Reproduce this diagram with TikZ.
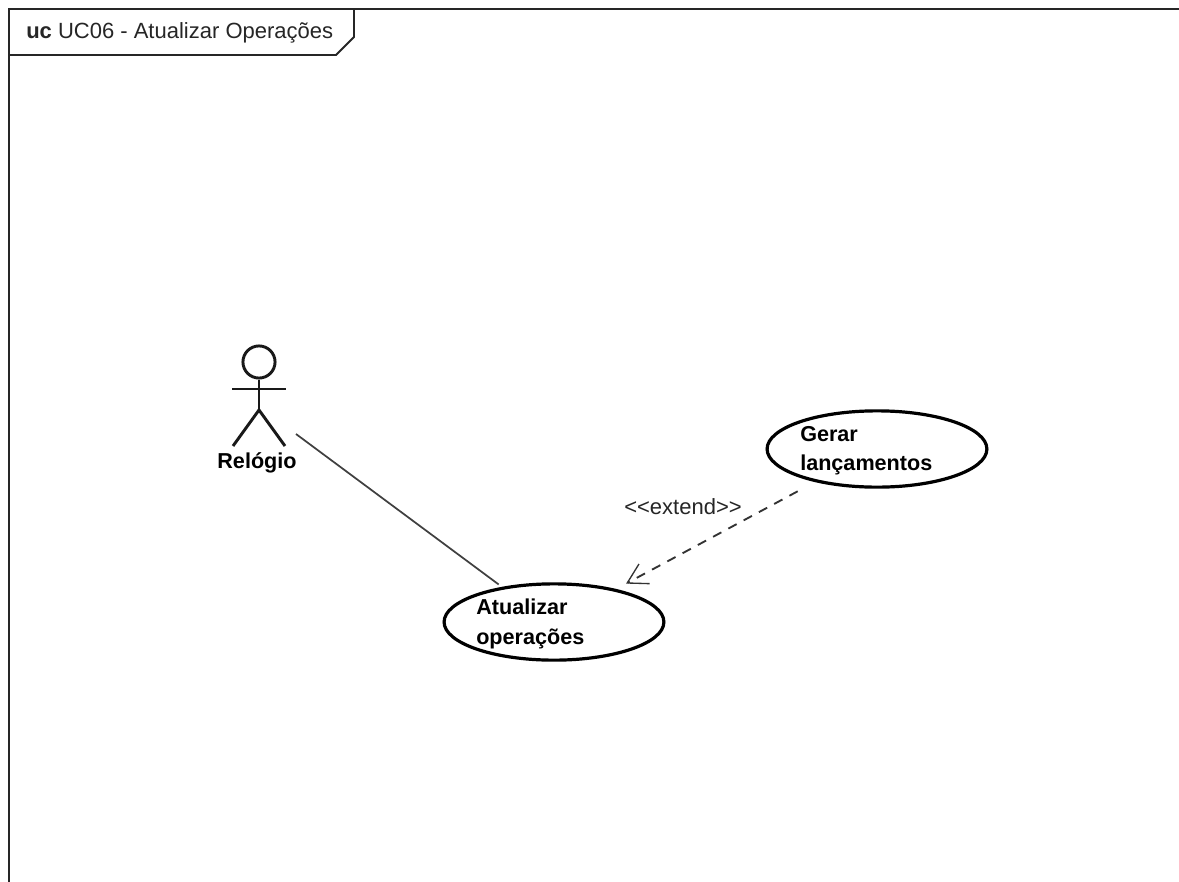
\documentclass[tikz,border=0pt]{standalone}
\usepackage{fontspec}
\setmainfont{Liberation Sans}
\usetikzlibrary{shapes.geometric,arrows.meta}
\tikzset{
  frameline/.style={draw=black!85,line width=1.4pt},
  usecase/.style={ellipse,draw=black,line width=2.4pt,fill=white,inner sep=0pt,minimum width=219bp*0.75,minimum height=76bp*0.75},
  uctext/.style={font=\bfseries\fontsize{16.2pt}{22pt}\selectfont,align=left,inner sep=0pt},
  stick/.style={draw=black!90,line width=2.2pt},
  assoc/.style={draw=black!75,line width=1.3pt},
  extendline/.style={draw=black!80,line width=1.4pt,dash pattern=on 7pt off 6pt},
  plain/.style={font=\fontsize{16.5pt}{20pt}\selectfont,inner sep=0pt,text=black!85}
}
\begin{document}
\begin{tikzpicture}[x=0.75pt,y=-0.75pt]
\useasboundingbox[fill=white] (0,0) rectangle (1179,882);
% frame
\draw[frameline] (9,882) -- (9,9) -- (1179,9);
\draw[frameline] (9,55) -- (336,55) -- (354,37) -- (354,9);
\node[plain,anchor=west] (title) at (26,33) {\textbf{uc} UC06 - Atualizar Operações};
% actor
\node[circle,stick,minimum size=32bp*0.75,inner sep=0pt] (head) at (259,362) {};
\coordinate (arml) at (232,389);
\coordinate (armr) at (286,389);
\coordinate (hip) at (259,410);
\coordinate (legl) at (233,446);
\coordinate (legr) at (285,446);
\draw[stick] (head.south) -- (hip);
\draw[stick] (arml) -- (armr);
\draw[stick] (legl) -- (hip) -- (legr);
\node[uctext] (relogio) at (257,463) {Relógio};
\coordinate (actorend) at (296,434);
% use cases
\node[usecase] (atual) at (554,622) {};
\node[uctext,anchor=west] (atualtext) at (476,624) {Atualizar\\operações};
\node[usecase] (gerar) at (877,449) {};
\node[uctext,anchor=west] (gerartext) at (800,451) {Gerar\\lançamentos};
% connectors
\draw[assoc,shorten >=3pt] (actorend) -- (atual.146);
\draw[extendline,-{Straight Barb[length=14.5pt,line width=1pt,angle'=60]},shorten >=8.5pt,shorten <=14.7pt] (gerar.208.6) -- (atual.28.2);
\node[plain] (extlabel) at (683,507) {<{}<extend>{}>};
\end{tikzpicture}
\end{document}
